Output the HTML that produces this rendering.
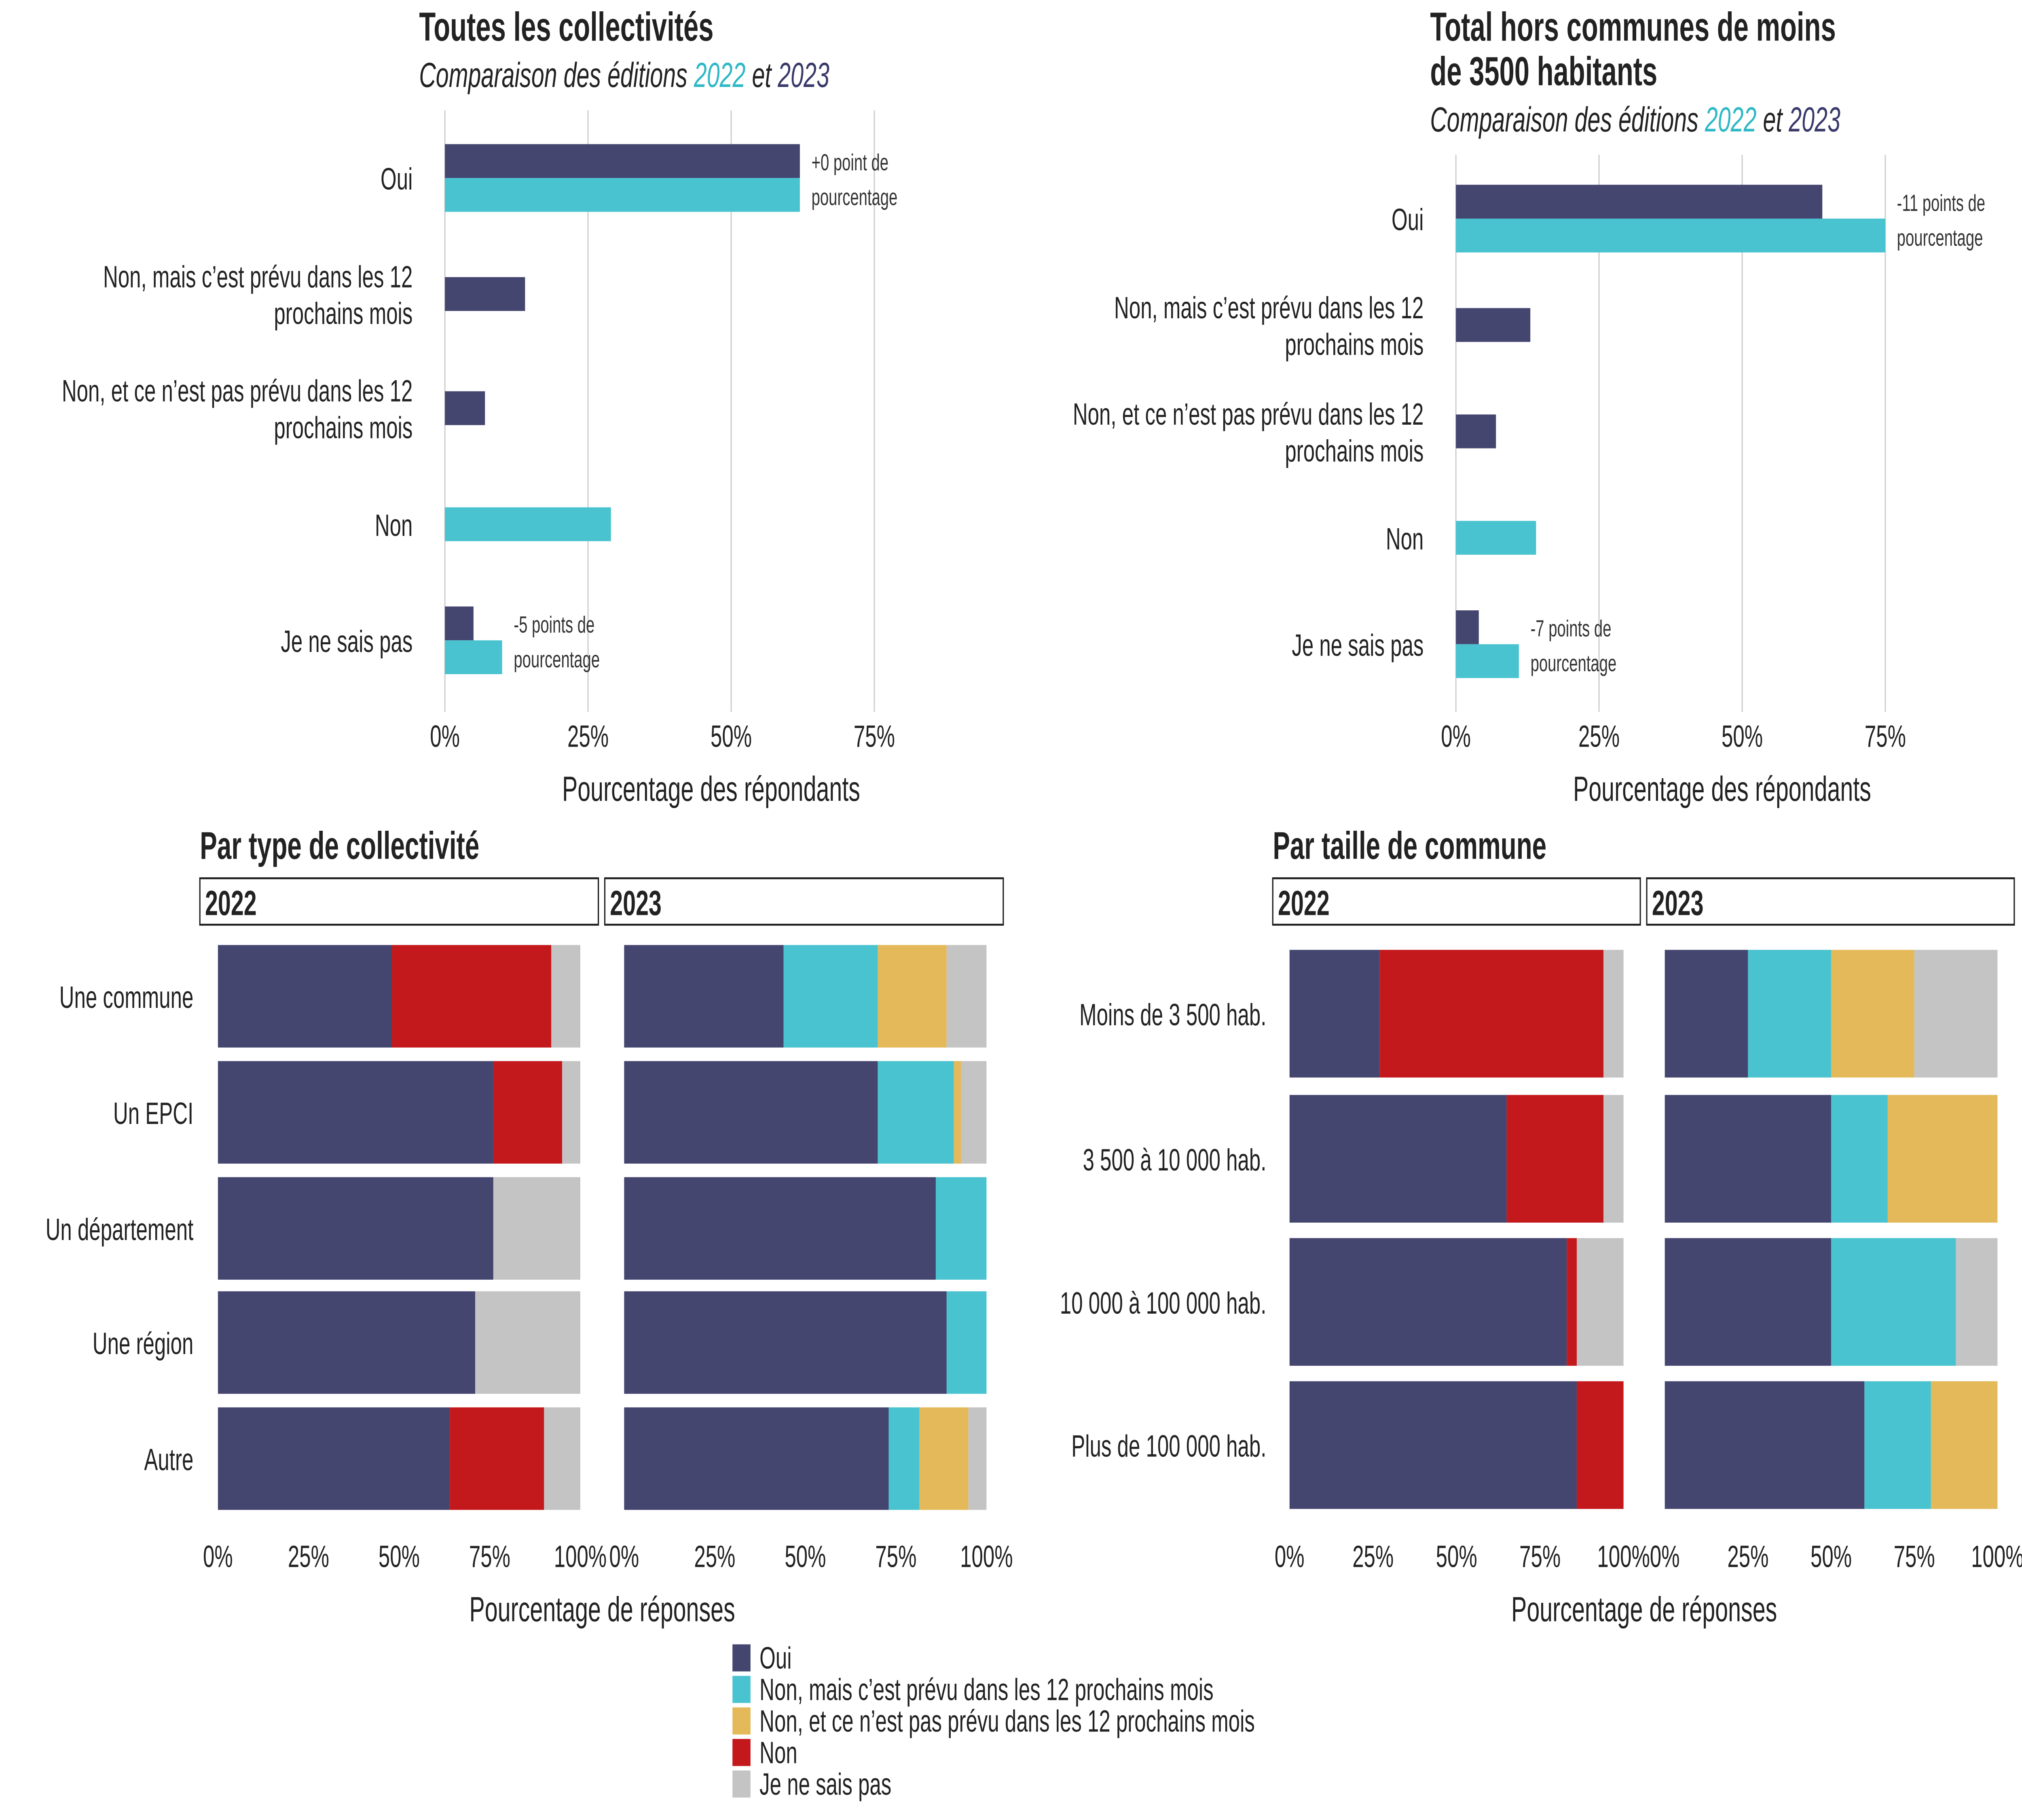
<!DOCTYPE html>
<html><head><meta charset="utf-8">
<style>
html,body{margin:0;padding:0;background:#fff;width:100vw;height:100vh;overflow:hidden;}
#c{display:block;position:absolute;left:0;top:0;width:100vw;height:100vh;font-family:"Liberation Sans",sans-serif;}
</style></head>
<body>
<svg id="c" xmlns="http://www.w3.org/2000/svg" viewBox="0 0 1568 940.8" preserveAspectRatio="none"></svg>
<script>
// ---- Data ----
const colorNames = ["Oui","Non, mais c’est prévu dans les 12 prochains mois","Non, et ce n’est pas prévu dans les 12 prochains mois","Non","Je ne sais pas"];
const colors = ["#45466f","#4ac3d0","#e3b95a","#c4191c","#c4c4c4"];
const topCats = ["Oui","Non, mais c’est prévu dans les 12|prochains mois","Non, et ce n’est pas prévu dans les 12|prochains mois","Non","Je ne sais pas"];
const tl2023 = [62, 14, 7, null, 5];
const tl2022 = [62, null, null, 29, 10];
const tr2023 = [64, 13, 7, null, 4];
const tr2022 = [75, null, null, 14, 11];
const tlNotes = [["+0 point de","pourcentage"],null,null,null,["-5 points de","pourcentage"]];
const trNotes = [["-11 points de","pourcentage"],null,null,null,["-7 points de","pourcentage"]];
const topTicks = [0,25,50,75];
const typeCats = ["Une commune","Un EPCI","Un département","Une région","Autre"];
const type2022 = [[48,0,0,44,8],[76,0,0,19,5],[76,0,0,0,24],[71,0,0,0,29],[64,0,0,26,10]];
const type2023 = [[44,26,19,0,11],[70,21,2,0,7],[86,14,0,0,0],[89,11,0,0,0],[73,8.5,13.5,0,5]];
const sizeCats = ["Moins de 3 500 hab.","3 500 à 10 000 hab.","10 000 à 100 000 hab.","Plus de 100 000 hab."];
const size2022 = [[27,0,0,67,6],[65,0,0,29,6],[83,0,0,3,14],[86,0,0,14,0]];
const size2023 = [[25,25,25,0,25],[50,17,33,0,0],[50,37.5,0,0,12.5],[60,20,20,0,0]];
const botTicks = [0,25,50,75,100];

const svg = document.getElementById('c');
const NS = "http://www.w3.org/2000/svg";
function el(tag, attrs, parent, text){
  const e = document.createElementNS(NS, tag);
  for (const k in attrs) e.setAttribute(k, attrs[k]);
  if (text !== undefined) e.textContent = text;
  (parent||svg).appendChild(e);
  return e;
}
function txt(x,y,s,size,opts,parent){
  const a = Object.assign({x:x,y:y,'font-size':size,fill:'#222'}, opts||{});
  return el('text', a, parent, s);
}

function topPanel(x0, gTop, centers, v23, v22, notes, titleX, titleYs, subY, labX, name){
  const g = el('g', {});
  
  
  const sx = v => x0 + v*4.44;
  titleYs.forEach(t=>{ const e = txt(titleX, t[1], t[0], 21, {'font-weight':'bold'}, g);   });
  const sub = el('text',{x:titleX,y:subY,'font-size':18,'font-style':'italic',fill:'#222'},g);
   
  el('tspan',{},sub,'Comparaison des éditions ');
  el('tspan',{fill:'#2fb8c6'},sub,'2022');
  el('tspan',{},sub,' et ');
  el('tspan',{fill:'#393a6a'},sub,'2023');
  topTicks.forEach(t=>{
    const l = el('line',{x1:sx(t),x2:sx(t),y1:gTop,y2:368,stroke:'#d0d0d0','stroke-width':1},g);
     
    const e = txt(sx(t), 386, t+'%', 16, {'text-anchor':'middle'}, g);
     
  });
  const at = txt((sx(0)+sx(93))/2, 414, 'Pourcentage des répondants', 18, {'text-anchor':'middle'}, g);
   
  const h = 17.5;
  topCats.forEach((c,i)=>{
    const cy = centers[i];
    const parts = c.split('|');
    parts.forEach((p,j)=>{
      const e = txt(labX, cy + 6 + (parts.length>1 ? (j-0.5)*19 : 0), p, 16, {'text-anchor':'end'}, g);
       
    });
    const both = v23[i]!=null && v22[i]!=null;
    if (v23[i]!=null){
      const y = both ? cy-h : cy-h/2;
      const r = el('rect',{x:sx(0),y:y,width:sx(v23[i])-sx(0),height:h,fill:colors[0]},g);
       
    }
    if (v22[i]!=null){
      const y = both ? cy : cy-h/2;
      const r = el('rect',{x:sx(0),y:y,width:sx(v22[i])-sx(0),height:h,fill:colors[1]},g);
       
    }
    if (notes[i]){
      const mx = Math.max(v23[i]||0, v22[i]||0);
      notes[i].forEach((n,j)=>{
        const e = txt(sx(mx)+9, cy-4+j*18, n, 12, {fill:'#333'}, g);
         
      });
    }
  });
}
topPanel(345, 57, [92,152,211,271,331], tl2023, tl2022, tlNotes, 325, [['Toutes les collectivités',21]], 45, 320, 'top-left-panel');
topPanel(1129, 80, [113,168,223,278,333], tr2023, tr2022, trNotes, 1109, [['Total hors communes de moins',21],['de 3500 habitants',44]], 68, 1104, 'top-right-panel');

function bottomPanel(title, titleX, strips, plots, cats, centers, h, d22, d23, labX, axisCx, name){
  const g = el('g',{});
  
  
  const t = txt(titleX, 444, title, 20, {'font-weight':'bold'}, g);
   
  const years = ['2022','2023'];
  [d22,d23].forEach((data,k)=>{
    const s = strips[k];
    const r = el('rect',{x:s[0],y:454,width:s[1]-s[0],height:24,fill:'#fff',stroke:'#222','stroke-width':1},g);
     
    const st = txt(s[0]+4, 473, years[k], 18, {'font-weight':'bold'}, g);
     
    const p = plots[k];
    const sx = v => p[0] + v/100*(p[1]-p[0]);
    data.forEach((row,i)=>{
      let acc = 0;
      row.forEach((v,j)=>{
        if (v>0){
          const b = el('rect',{x:sx(acc),y:centers[i]-h/2,width:sx(acc+v)-sx(acc),height:h,fill:colors[j]},g);
           
        }
        acc += v;
      });
    });
    botTicks.forEach(tk=>{
      const e = txt(sx(tk), 810, tk+'%', 16, {'text-anchor':'middle'}, g);
       
    });
  });
  cats.forEach((c,i)=>{
    const e = txt(labX, centers[i]+6, c, 16, {'text-anchor':'end'}, g);
     
  });
  const at = txt(axisCx, 838, 'Pourcentage de réponses', 18, {'text-anchor':'middle'}, g);
   
}
bottomPanel('Par type de collectivité', 155, [[155,464],[469,778]], [[169,450],[484,765]], typeCats, [515,575,635,694,754], 53, type2022, type2023, 150, 467, 'bottom-left-panel');
bottomPanel('Par taille de commune', 987, [[987,1272],[1277,1562]], [[1000,1259],[1291,1549]], sizeCats, [524,599,673,747], 66, size2022, size2023, 982, 1275, 'bottom-right-panel');

const lg = el('g',{});


colorNames.forEach((n,i)=>{
  const y = 850 + i*16.3;
  const r = el('rect',{x:568,y:y,width:14,height:14,fill:colors[i]},lg);
   
  const t = txt(589, y+12.5, n, 16, {}, lg);
   
});
</script>
</body></html>
